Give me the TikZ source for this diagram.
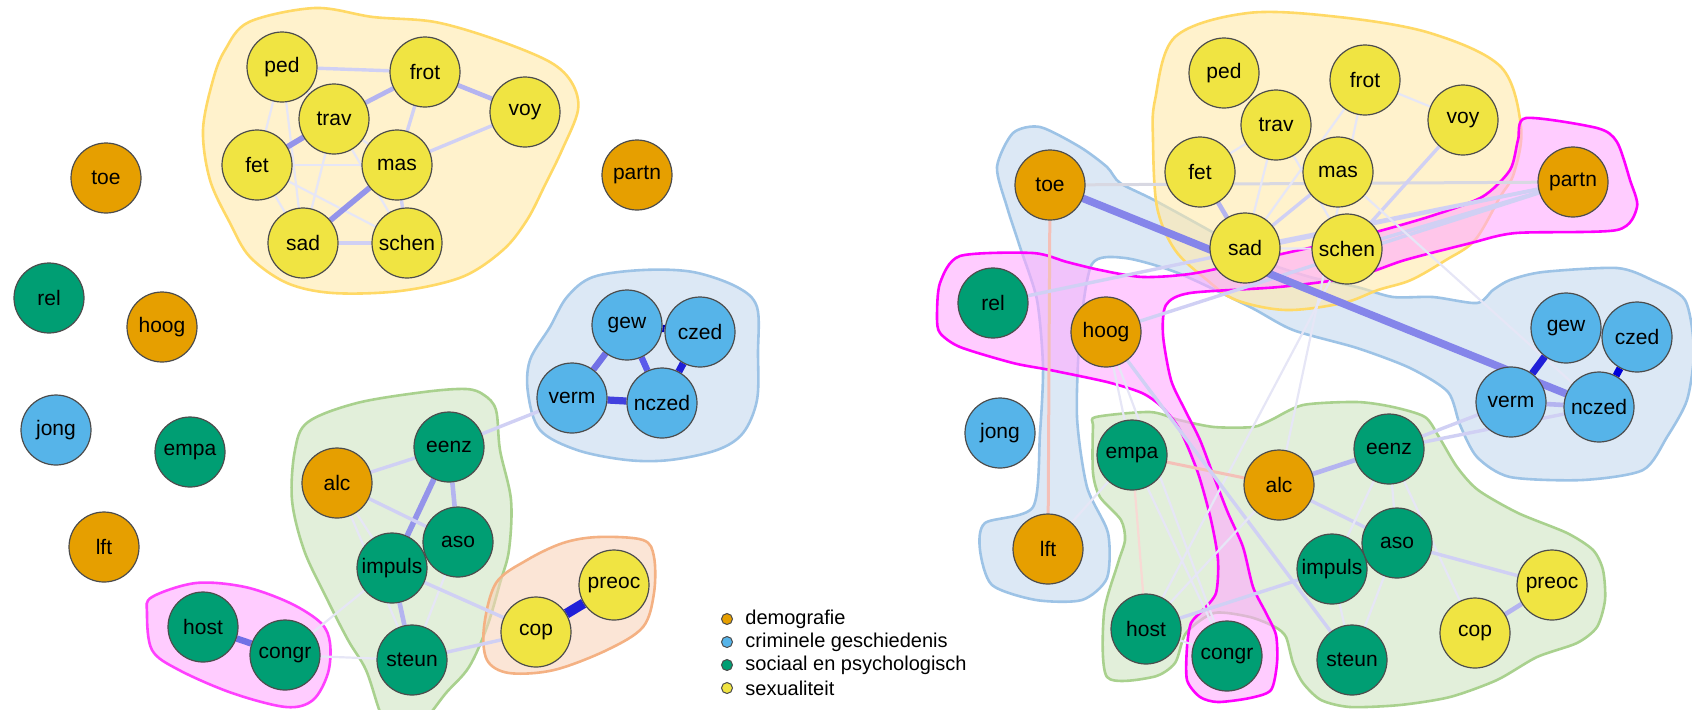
\documentclass[tikz,border=0pt]{standalone}
\usepackage{fontspec}
\setmainfont{Liberation Sans}
\definecolor{cDem}{HTML}{E69F00}
\definecolor{cCrim}{HTML}{56B4E9}
\definecolor{cSoc}{HTML}{009E73}
\definecolor{cSex}{HTML}{F0E442}
\definecolor{hYf}{RGB}{255,233,170}
\definecolor{hYd}{HTML}{FFD966}
\definecolor{hBf}{RGB}{197,217,238}
\definecolor{hBd}{HTML}{9DC3E6}
\definecolor{hGf}{RGB}{207,228,193}
\definecolor{hGd}{HTML}{A9D18E}
\definecolor{hPf}{RGB}{255,170,255}
\definecolor{hPd}{HTML}{FF00FF}
\definecolor{hOf}{RGB}{248,212,187}
\definecolor{hOd}{HTML}{F4B183}
\definecolor{ecA}{HTML}{E6E6F6}
\definecolor{ecB}{HTML}{D0D0F4}
\definecolor{ecC}{HTML}{B4B4F0}
\definecolor{ecD}{HTML}{9494EA}
\definecolor{ecE}{HTML}{7070E6}
\definecolor{ecF}{HTML}{2020D8}
\definecolor{ecP}{HTML}{F4C0B8}
\definecolor{ecG}{HTML}{D8D8E2}
\pgfdeclarelayer{hulls}
\pgfdeclarelayer{edges}
\pgfsetlayers{hulls,edges,main}
\begin{document}
\begin{tikzpicture}[x=0.5pt,y=-0.5pt,
  nd/.style={circle,draw=black!70,line width=0.6pt,minimum size=35pt,inner sep=0pt,font=\fontsize{10.5}{12}\selectfont},
  dem/.style={nd,fill=cDem},
  crim/.style={nd,fill=cCrim},
  soc/.style={nd,fill=cSoc},
  sex/.style={nd,fill=cSex},
  hull/.style={line width=1.3pt,fill opacity=0.6},
  yhull/.style={hull,fill=hYf,draw=hYd},
  bhull/.style={hull,fill=hBf,draw=hBd},
  ghull/.style={hull,fill=hGf,draw=hGd},
  phull/.style={hull,fill=hPf,draw=hPd},
  ohull/.style={hull,fill=hOf,draw=hOd},
  eA/.style={draw=ecA,line width=1.1pt},
  eB/.style={draw=ecB,line width=1.7pt},
  eC/.style={draw=ecC,line width=2.3pt},
  eD/.style={draw=ecD,line width=2.8pt},
  eE/.style={draw=ecE,line width=3.2pt},
  eF/.style={draw=ecF,line width=3.6pt},
  eP/.style={draw=ecP,line width=1.5pt},
  eG/.style={draw=ecG,line width=1.5pt},
  ldot/.style={circle,draw=black!70,line width=0.5pt,minimum size=5.5pt,inner sep=0pt},
  ltxt/.style={anchor=west,inner sep=0pt,font=\fontsize{10}{12}\selectfont}
]
\useasboundingbox (0,0) rectangle (1692,709);
\clip (0,0) rectangle (1692,709);

% ---------- left panel nodes ----------
\node[sex] (Lped) at (282,67) {ped};
\node[sex] (Lfrot) at (425,72) {frot};
\node[sex] (Ltrav) at (334,119) {trav};
\node[sex] (Lvoy) at (525,112) {voy};
\node[sex] (Lfet) at (257,165) {fet};
\node[sex] (Lmas) at (397,165) {mas};
\node[sex] (Lsad) at (303,243) {sad};
\node[sex] (Lschen) at (407,243) {schen};
\node[dem] (Ltoe) at (106,178) {toe};
\node[dem] (Lpartn) at (637,175) {partn};
\node[soc] (Lrel) at (49,298) {rel};
\node[dem] (Lhoog) at (162,327) {hoog};
\node[crim] (Ljong) at (56,430) {jong};
\node[soc] (Lempa) at (190,452) {empa};
\node[dem] (Llft) at (104,547) {lft};
\node[crim] (Lgew) at (627,325) {gew};
\node[crim] (Lczed) at (700,332) {czed};
\node[crim] (Lverm) at (572,398) {verm};
\node[crim] (Lnczed) at (662,403) {nczed};
\node[soc] (Leenz) at (449,447) {eenz};
\node[dem] (Lalc) at (337,483) {alc};
\node[soc] (Laso) at (458,542) {aso};
\node[soc] (Limpuls) at (392,568) {impuls};
\node[soc] (Lhost) at (203,627) {host};
\node[soc] (Lcongr) at (285,655) {congr};
\node[soc] (Lsteun) at (412,660) {steun};
\node[sex] (Lcop) at (536,632) {cop};
\node[sex] (Lpreoc) at (614,585) {preoc};

% ---------- right panel nodes ----------
\node[sex] (Rped) at (1224,73) {ped};
\node[sex] (Rfrot) at (1365,80) {frot};
\node[sex] (Rtrav) at (1276,125) {trav};
\node[sex] (Rvoy) at (1463,120) {voy};
\node[sex] (Rfet) at (1200,172) {fet};
\node[sex] (Rmas) at (1338,172) {mas};
\node[sex] (Rsad) at (1245,248) {sad};
\node[sex] (Rschen) at (1347,249) {schen};
\node[dem] (Rtoe) at (1050,185) {toe};
\node[dem] (Rpartn) at (1573,182) {partn};
\node[soc] (Rrel) at (993,303) {rel};
\node[dem] (Rhoog) at (1106,332) {hoog};
\node[crim] (Rgew) at (1566,328) {gew};
\node[crim] (Rczed) at (1637,337) {czed};
\node[crim] (Rverm) at (1511,402) {verm};
\node[crim] (Rnczed) at (1599,407) {nczed};
\node[crim] (Rjong) at (1000,433) {jong};
\node[dem] (Rlft) at (1048,549) {lft};
\node[soc] (Rempa) at (1132,455) {empa};
\node[dem] (Ralc) at (1279,485) {alc};
\node[soc] (Reenz) at (1389,449) {eenz};
\node[soc] (Raso) at (1397,543) {aso};
\node[soc] (Rimpuls) at (1332,569) {impuls};
\node[soc] (Rhost) at (1146,629) {host};
\node[soc] (Rcongr) at (1227,656) {congr};
\node[soc] (Rsteun) at (1352,660) {steun};
\node[sex] (Rpreoc) at (1552,585) {preoc};
\node[sex] (Rcop) at (1475,633) {cop};

% ---------- legend ----------
\node[ldot,fill=cDem] (k1) at (727,619) {};
\node[ldot,fill=cCrim] (k2) at (727,642) {};
\node[ldot,fill=cSoc] (k3) at (727,665) {};
\node[ldot,fill=cSex] (k4) at (727,688) {};
\node[ltxt] (t1) at (745,619) {demografie};
\node[ltxt] (t2) at (745,642) {criminele geschiedenis};
\node[ltxt] (t3) at (745,665) {sociaal en psychologisch};
\node[ltxt] (t4) at (745,688) {sexualiteit};

% ---------- hulls ----------
\begin{pgfonlayer}{hulls}
\draw[yhull] plot[smooth cycle,tension=0.55] coordinates {(315,8) (373,17) (435,22) (497,40) (550,62) (572,83) (578,110) (562,150) (545,185) (527,220) (503,250) (462,277) (400,291) (333,293) (287,283) (250,257) (230,223) (210,180) (203,130) (213,80) (225,50) (249,22)};
\draw[bhull] plot[smooth cycle,tension=0.55] coordinates {(593,277) (643,270) (693,272) (737,287) (757,307) (758,353) (757,400) (743,433) (717,450) (670,460) (627,460) (577,450) (540,430) (528,393) (530,360) (550,327) (567,297)};
\draw[ghull] plot[smooth cycle,tension=0.55] coordinates {(308,422) (357,403) (424,392) (466,389) (484,395) (496,410) (500,450) (511,500) (509,550) (500,583) (487,627) (469,667) (446,693) (429,715) (410,735) (390,730) (380,712) (366,670) (348,640) (326,597) (304,550) (292,500) (295,450)};
\draw[phull,draw=hPd!75] plot[smooth cycle,tension=0.55] coordinates {(147,613) (152,597) (196,583) (245,587) (290,603) (321,623) (330,643) (328,673) (313,700) (286,707) (232,693) (179,670) (152,650)};
\draw[ohull] plot[smooth cycle,tension=0.55] coordinates {(496,583) (527,560) (563,543) (598,537) (643,540) (654,557) (654,593) (643,627) (607,650) (554,670) (509,673) (487,660) (484,627)};

\draw[bhull] plot[smooth cycle,tension=0.45] coordinates {(1040,127) (1080,147) (1107,167) (1120,183) (1154,200) (1214,233) (1260,260) (1310,277) (1357,287) (1393,297) (1433,297) (1477,303) (1493,290) (1510,280) (1543,272) (1617,268) (1652,280) (1685,300) (1694,350) (1687,400) (1667,437) (1643,470) (1583,480) (1510,477) (1477,457) (1460,425) (1448,392) (1410,368) (1357,348) (1293,330) (1250,307) (1178,273) (1125,258) (1092,264) (1080,333) (1077,417) (1087,487) (1108,533) (1107,578) (1082,600) (1036,600) (992,585) (980,550) (985,523) (1033,507) (1040,433) (1043,367) (1037,300) (1020,247) (1007,207) (997,167) (1013,133)};
\draw[yhull] plot[smooth cycle,tension=0.55] coordinates {(1248,13) (1339,17) (1430,33) (1501,67) (1521,127) (1514,173) (1500,197) (1475,240) (1446,260) (1411,280) (1378,290) (1343,303) (1286,310) (1236,300) (1207,280) (1175,250) (1157,207) (1153,140) (1155,100) (1175,37)};
\draw[ghull] plot[smooth cycle,tension=0.45] coordinates {(1096,417) (1150,412) (1179,420) (1214,427) (1253,427) (1271,420) (1303,405) (1357,402) (1393,407) (1425,417) (1439,437) (1457,467) (1478,490) (1518,513) (1567,533) (1593,550) (1603,570) (1605,600) (1597,627) (1577,643) (1537,657) (1497,680) (1450,697) (1400,705) (1350,707) (1321,700) (1303,683) (1293,663) (1286,637) (1275,627) (1250,617) (1214,613) (1186,633) (1175,663) (1153,677) (1107,677) (1104,613) (1118,563) (1125,540) (1121,520) (1100,497) (1093,473) (1093,427)};
\draw[phull] plot[smooth cycle,tension=0.45] coordinates {(1526,118) (1597,128) (1617,142) (1630,180) (1637,207) (1617,230) (1516,233) (1471,243) (1405,260) (1354,277) (1279,287) (1190,293) (1166,305) (1163,335) (1171,380) (1185,410) (1200,440) (1214,477) (1228,513) (1243,547) (1253,587) (1266,613) (1276,635) (1277,663) (1271,690) (1250,698) (1218,702) (1200,697) (1187,680) (1187,647) (1191,623) (1203,610) (1216,593) (1218,560) (1211,520) (1198,473) (1180,430) (1162,407) (1142,393) (1107,382) (1050,370) (1013,363) (960,347) (940,333) (937,317) (940,283) (960,256) (1033,253) (1067,262) (1100,270) (1143,277) (1196,273) (1286,253) (1357,237) (1428,217) (1482,197) (1510,170) (1518,140)};
\end{pgfonlayer}

% ---------- edges ----------
\begin{pgfonlayer}{edges}
% left sexuality cluster
\draw[eB] (Lped)--(Lfrot);
\draw[eA] (Lped)--(Lfet);
\draw[eA] (Lped)--(Lsad);
\draw[eA] (Lped)--(Ltrav);
\draw[eC] (Ltrav)--(Lfrot);
\draw[eD] (Ltrav)--(Lfet);
\draw[eA] (Ltrav)--(Lsad);
\draw[eA] (Ltrav)--(Lschen);
\draw[eA] (Ltrav)--(Lmas);
\draw[eB] (Lfrot)--(Lmas);
\draw[eC] (Lfrot)--(Lvoy);
\draw[eB] (Lvoy)--(Lmas);
\draw[eA] (Lfet)--(Lmas);
\draw[eA] (Lfet)--(Lsad);
\draw[eA] (Lfet)--(Lschen);
\draw[eD] (Lmas)--(Lsad);
\draw[eB] (Lmas)--(Lschen);
\draw[eB] (Lsad)--(Lschen);
% left criminal cluster
\draw[eE] (Lgew)--(Lverm);
\draw[eE,draw=ecE!80!blue] (Lgew)--(Lnczed);
\draw[eF,draw=blue!70!black] (Lgew)--(Lczed);
\draw[eF] (Lczed)--(Lnczed);
\draw[eF,draw=ecF!85!white] (Lverm)--(Lnczed);
\draw[eB] (Lverm)--(Leenz);
% left social cluster
\draw[eB] (Leenz)--(Lalc);
\draw[eD] (Leenz)--(Limpuls);
\draw[eC] (Leenz)--(Laso);
\draw[eB] (Lalc)--(Laso);
\draw[eA] (Lalc)--(Limpuls);
\draw[eA] (Lalc)--(Lsteun);
\draw[eC] (Limpuls)--(Lsteun);
\draw[eA] (Laso)--(Lsteun);
\draw[eB] (Limpuls)--(Lcop);
\draw[eA] (Limpuls)--(Lcongr);
\draw[eB] (Lsteun)--(Lcop);
\draw[eA] (Lcongr)--(Lsteun);
\draw[eE] (Lhost)--(Lcongr);
\draw[eF,line width=5pt] (Lcop)--(Lpreoc);

% right panel
\draw[eG] (Rtoe)--(Rpartn);
\draw[eP] (Rtoe)--(Rlft);
\draw[eB] (Rrel)--(Rpartn);
\draw[eB] (Rhoog)--(Rpartn);
\draw[eB] (Rsad)--(Rpartn);
\draw[eB] (Rschen)--(Rpartn);
\draw[eC] (Rfet)--(Rsad);
\draw[eB] (Rmas)--(Rsad);
\draw[eA] (Rfet)--(Rtrav);
\draw[eA] (Rtrav)--(Rsad);
\draw[eA] (Rtrav)--(Rschen);
\draw[eA] (Rfrot)--(Rsad);
\draw[eA] (Rfrot)--(Rvoy);
\draw[eA] (Rfrot)--(Ralc);
\draw[eB] (Rvoy)--(Rschen);
\draw[eA] (Rmas)--(Rnczed);
\draw[eA] (Rsad)--(Rschen);
\draw[eA] (Rschen)--(Rhost);
\draw[eE,line width=3.8pt,draw=ecE!85!white] (Rtoe)--(Rnczed);
\draw[eF] (Rgew)--(Rverm);
\draw[eF,draw=blue!85!black] (Rczed)--(Rnczed);
\draw[eA,draw=ecD] (Rgew)--(Rczed);
\draw[eC] (Rverm)--(Rnczed);
\draw[eB] (Reenz)--(Rverm);
\draw[eB] (Reenz)--(Rnczed);
\draw[eC] (Ralc)--(Reenz);
\draw[eB] (Ralc)--(Raso);
\draw[eP] (Rempa)--(Ralc);
\draw[eA] (Rempa)--(Rlft);
\draw[eA,draw=ecP!60] (Rempa)--(Rhost);
\draw[eA] (Rempa)--(Rcongr);
\draw[eA] (Rhoog)--(Rempa);
\draw[eB] (Rhoog)--(Rsteun);
\draw[eA] (Rhoog)--(Rcongr);
\draw[eA] (Ralc)--(Rhost);
\draw[eA] (Reenz)--(Rimpuls);
\draw[eA] (Reenz)--(Raso);
\draw[eA] (Reenz)--(Rcop);
\draw[eB] (Raso)--(Rpreoc);
\draw[eA] (Raso)--(Rsteun);
\draw[eA] (Rimpuls)--(Rsteun);
\draw[eB] (Rimpuls)--(Rhost);
\draw[eC] (Rcop)--(Rpreoc);
\draw[eA] (Rhost)--(Rcongr);
\end{pgfonlayer}
\end{tikzpicture}
\end{document}
